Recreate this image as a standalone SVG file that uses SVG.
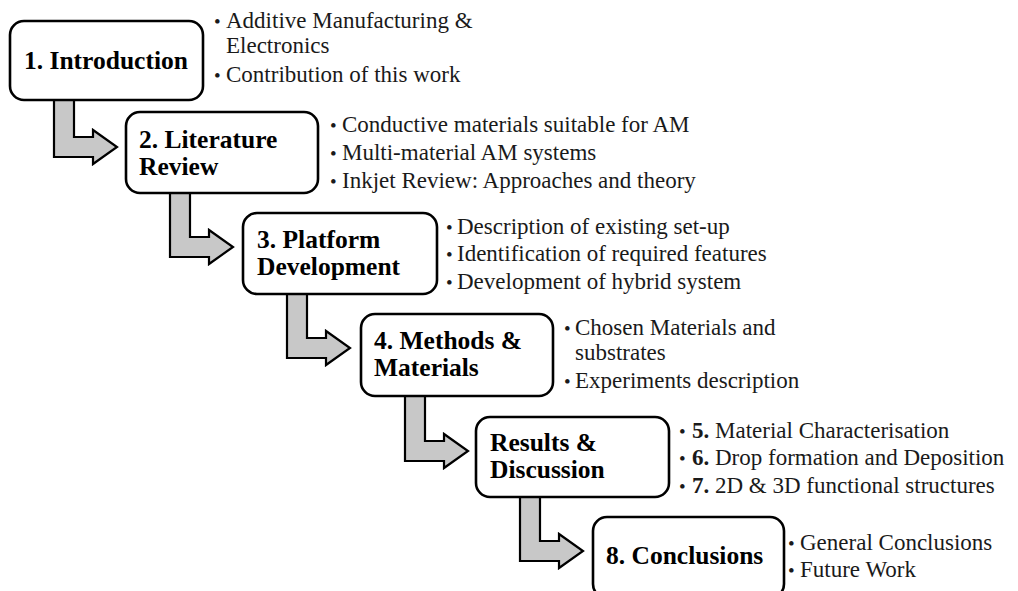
<svg xmlns="http://www.w3.org/2000/svg" width="1018" height="591" viewBox="0 0 1018 591">
<style>
.box{fill:#fff;stroke:#000;stroke-width:2.6}
.arr{fill:#c8c8c8;stroke:#000;stroke-width:2.2;stroke-linejoin:miter}
.t{font-family:"Liberation Serif","Times New Roman",serif;font-weight:bold;font-size:25.5px;fill:#000}
.b{font-family:"Liberation Serif","Times New Roman",serif;font-size:23px;fill:#1a1a1a}
.d{font-family:"Liberation Serif","Times New Roman",serif;font-size:19px;fill:#1a1a1a}
</style>
<rect width="1018" height="591" fill="#fff"/>
<g id="connectors">
<path class="arr" d="M54,98 L54,157 L93,157 L93,164 L117,147 L93,130 L93,137 L74,137 L74,98 Z"/>
<path class="arr" d="M170,191 L170,257 L209,257 L209,264 L233,247 L209,230 L209,237 L190,237 L190,191 Z"/>
<path class="arr" d="M287,292 L287,358 L326,358 L326,365 L350,348 L326,331 L326,338 L307,338 L307,292 Z"/>
<path class="arr" d="M405,394 L405,461 L444,461 L444,468 L468,451 L444,434 L444,441 L425,441 L425,394 Z"/>
<path class="arr" d="M520,495 L520,561 L559,561 L559,568 L583,551 L559,534 L559,541 L540,541 L540,495 Z"/>
</g>
<g id="node1">
<rect class="box" x="10" y="21" width="193" height="79" rx="14"/>
<text class="t" x="24" y="69">1. Introduction</text>
<text class="d" x="214" y="28">•</text><text class="b" x="226" y="28">Additive Manufacturing &amp;</text>
<text class="b" x="226" y="53">Electronics</text>
<text class="d" x="214" y="82">•</text><text class="b" x="226" y="82">Contribution of this work</text>
</g>
<g id="node2">
<rect class="box" x="126" y="112" width="192" height="81" rx="14"/>
<text class="t" x="139" y="148">2. Literature</text>
<text class="t" x="139" y="175">Review</text>
<text class="d" x="330" y="132">•</text><text class="b" x="342" y="132">Conductive materials suitable for AM</text>
<text class="d" x="330" y="160">•</text><text class="b" x="342" y="160">Multi-material AM systems</text>
<text class="d" x="330" y="188">•</text><text class="b" x="342" y="188">Inkjet Review: Approaches and theory</text>
</g>
<g id="node3">
<rect class="box" x="243" y="213" width="194" height="81" rx="14"/>
<text class="t" x="257" y="248">3. Platform</text>
<text class="t" x="257" y="275">Development</text>
<text class="d" x="446" y="234">•</text><text class="b" x="457" y="234">Description of existing set-up</text>
<text class="d" x="446" y="261">•</text><text class="b" x="457" y="261">Identification of required features</text>
<text class="d" x="446" y="289">•</text><text class="b" x="457" y="289">Development of hybrid system</text>
</g>
<g id="node4">
<rect class="box" x="361" y="314" width="192" height="82" rx="14"/>
<text class="t" x="374" y="349">4. Methods &amp;</text>
<text class="t" x="374" y="376">Materials</text>
<text class="d" x="564" y="335">•</text><text class="b" x="575" y="335">Chosen Materials and</text>
<text class="b" x="575" y="360">substrates</text>
<text class="d" x="564" y="388">•</text><text class="b" x="575" y="388">Experiments description</text>
</g>
<g id="node5">
<rect class="box" x="476" y="417" width="193" height="80" rx="14"/>
<text class="t" x="490" y="451">Results &amp;</text>
<text class="t" x="490" y="478">Discussion</text>
<text class="d" x="679" y="438">•</text><text class="b" x="692" y="438"><tspan font-weight="bold">5.</tspan> Material Characterisation</text>
<text class="d" x="679" y="465">•</text><text class="b" x="692" y="465"><tspan font-weight="bold">6.</tspan> Drop formation and Deposition</text>
<text class="d" x="679" y="493">•</text><text class="b" x="692" y="493"><tspan font-weight="bold">7.</tspan> 2D &amp; 3D functional structures</text>
</g>
<g id="node6">
<rect class="box" x="593" y="517" width="191" height="81" rx="14"/>
<text class="t" x="606" y="564">8. Conclusions</text>
<text class="d" x="788" y="550">•</text><text class="b" x="800" y="550">General Conclusions</text>
<text class="d" x="788" y="577">•</text><text class="b" x="800" y="577">Future Work</text>
</g>
</svg>
